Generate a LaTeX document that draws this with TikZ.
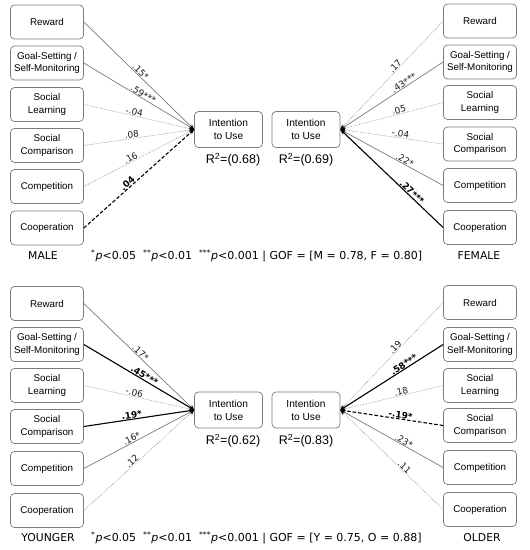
\documentclass[tikz,border=0pt]{standalone}
\usepackage{fontspec}
\setmainfont{Liberation Sans}
\newfontfamily\verdanaish{DejaVu Sans}
\usetikzlibrary{arrows.meta}

\definecolor{boxgray}{HTML}{7A7A7A}
\definecolor{linegray}{HTML}{7A7A7A}
\definecolor{dotgray}{HTML}{8A8A8A}
\definecolor{textgray}{HTML}{1A1A1A}

\tikzset{
  factor/.style={draw=boxgray, line width=0.7pt, rounded corners=4pt, fill=white,
    minimum width=73pt, minimum height=34pt, align=center, inner sep=1pt,
    font=\fontsize{9.8}{12.5}\selectfont},
  target/.style={factor, minimum width=68pt, minimum height=36pt,
    font=\fontsize{10.2}{13}\selectfont},
  weak/.style={draw=dotgray, densely dotted, line width=0.6pt, -{Stealth[length=5pt,width=4pt,black]}},
  sig/.style={draw=linegray, line width=0.7pt, -{Stealth[length=5pt,width=4pt,black]}},
  strong/.style={draw=black, line width=1.1pt, -{Stealth[length=5pt,width=4pt,black]}},
  strongneg/.style={draw=black, dash pattern=on 3.5pt off 2pt, line width=1.1pt, -{Stealth[length=5pt,width=4pt,black]}},
  coef/.style={sloped, above, inner sep=0.3pt, text=textgray, font=\verdanaish\fontsize{8.9}{9}\selectfont},
  boldcoef/.style={coef, text=black, font=\verdanaish\fontsize{8.9}{9}\selectfont\bfseries},
  rsq/.style={font=\fontsize{12.5}{14}\selectfont},
  group/.style={font=\verdanaish\fontsize{10.8}{13}\selectfont},
  note/.style={anchor=west, inner sep=0pt, font=\verdanaish\fontsize{11}{13}\selectfont}
}

\newcommand{\pval}[2]{\textsuperscript{#1}\textit{p}<#2}

\begin{document}
\begin{tikzpicture}[x=1pt,y=-1pt]
  \useasboundingbox (0,0) rectangle (530,550);

  % ---------------- Male (top left) ----------------
  \node[factor] (mRew)  at (47,22)    {Reward};
  \node[factor] (mGoal) at (47,63)    {Goal-Setting /\\Self-Monitoring};
  \node[factor] (mSL)   at (47,104.5) {Social\\Learning};
  \node[factor] (mSC)   at (47,145.5) {Social\\Comparison};
  \node[factor] (mComp) at (47,186.5) {Competition};
  \node[factor] (mCoop) at (47,228)   {Cooperation};

  \node[target] (mInt) at (228.5,129.5) {Intention\\to Use};
  \node[rsq] (mR2) at (233,160) {R\textsuperscript{2}=(0.68)};

  \draw[sig]       (mRew.east)  -- node[coef, pos=0.49] {.15*}   (mInt.west);
  \draw[sig]       (mGoal.east) -- node[coef, pos=0.52] {.59***} (mInt.west);
  \draw[weak]      (mSL.east)   -- node[coef, pos=0.45] {-.04}   (mInt.west);
  \draw[weak]      (mSC.east)   -- node[coef, pos=0.44] {.08}    (mInt.west);
  \draw[weak]      (mComp.east) -- node[coef, pos=0.44] {.16}    (mInt.west);
  \draw[strongneg] (mCoop.east) -- node[boldcoef, pos=0.42] {.04} (mInt.west);

  % ---------------- Female (top right) ----------------
  \node[factor] (fRew)  at (480,21)    {Reward};
  \node[factor] (fGoal) at (480,62)    {Goal-Setting /\\Self-Monitoring};
  \node[factor] (fSL)   at (480,102.5) {Social\\Learning};
  \node[factor] (fSC)   at (480,144)   {Social\\Comparison};
  \node[factor] (fComp) at (480,185.5) {Competition};
  \node[factor] (fCoop) at (480,227.5) {Cooperation};

  \node[target] (fInt) at (306,129.5) {Intention\\to Use};
  \node[rsq] (fR2) at (306,160) {R\textsuperscript{2}=(0.69)};

  \draw[weak]   (fRew.west)  -- node[coef, pos=0.44] {.17}    (fInt.east);
  \draw[sig]    (fGoal.west) -- node[coef, pos=0.36] {.43***} (fInt.east);
  \draw[weak]   (fSL.west)   -- node[coef, pos=0.42] {.05}    (fInt.east);
  \draw[weak]   (fSC.west)   -- node[coef, pos=0.42] {-.04}   (fInt.east);
  \draw[sig]    (fComp.west) -- node[coef, pos=0.39] {.22*}   (fInt.east);
  \draw[strong] (fCoop.west) -- node[boldcoef, pos=0.33] {.27***} (fInt.east);

  % Labels - top
  \node[group] (male)   at (43,256)  {MALE};
  \node[group] (female) at (479,256) {FEMALE};
  \node[note] (noteMF) at (91,256)
    {\pval{*}{0.05}\ \ \pval{**}{0.01}\ \ \pval{***}{0.001} | GOF = [M = 0.78, F = 0.80]};

  % ---------------- Younger (bottom left) ----------------
  \node[factor] (yRew)  at (47,303.5) {Reward};
  \node[factor] (yGoal) at (47,344.5) {Goal-Setting /\\Self-Monitoring};
  \node[factor] (ySL)   at (47,385.5) {Social\\Learning};
  \node[factor] (ySC)   at (47,426.5) {Social\\Comparison};
  \node[factor] (yComp) at (47,468.5) {Competition};
  \node[factor] (yCoop) at (47,510.5) {Cooperation};

  \node[target] (yInt) at (228.5,410) {Intention\\to Use};
  \node[rsq] (yR2) at (233,441) {R\textsuperscript{2}=(0.62)};

  \draw[sig]    (yRew.east)  -- node[coef, pos=0.49] {.17*}      (yInt.west);
  \draw[strong] (yGoal.east) -- node[boldcoef, pos=0.53] {.45***} (yInt.west);
  \draw[weak]   (ySL.east)   -- node[coef, pos=0.45] {-.06}      (yInt.west);
  \draw[strong] (ySC.east)   -- node[boldcoef, pos=0.44] {.19*}  (yInt.west);
  \draw[sig]    (yComp.east) -- node[coef, pos=0.45] {.16*}      (yInt.west);
  \draw[weak]   (yCoop.east) -- node[coef, pos=0.46] {.12}       (yInt.west);

  % ---------------- Older (bottom right) ----------------
  \node[factor] (oRew)  at (480,302.5) {Reward};
  \node[factor] (oGoal) at (480,344.5) {Goal-Setting /\\Self-Monitoring};
  \node[factor] (oSL)   at (480,385.5) {Social\\Learning};
  \node[factor] (oSC)   at (480,425.5) {Social\\Comparison};
  \node[factor] (oComp) at (480,467.5) {Competition};
  \node[factor] (oCoop) at (480,509.5) {Cooperation};

  \node[target] (oInt) at (306,410) {Intention\\to Use};
  \node[rsq] (oR2) at (306,441) {R\textsuperscript{2}=(0.83)};

  \draw[weak]      (oRew.west)  -- node[coef, pos=0.44] {.19}       (oInt.east);
  \draw[strong]    (oGoal.west) -- node[boldcoef, pos=0.36] {.58***} (oInt.east);
  \draw[weak]      (oSL.west)   -- node[coef, pos=0.40] {.18}       (oInt.east);
  \draw[strongneg] (oSC.west)   -- node[boldcoef, pos=0.42] {-.19*} (oInt.east);
  \draw[sig]       (oComp.west) -- node[coef, pos=0.40] {.23*}      (oInt.east);
  \draw[weak]      (oCoop.west) -- node[coef, pos=0.40] {.11}       (oInt.east);

  % Labels - bottom
  \node[group] (younger) at (48,538)  {YOUNGER};
  \node[group] (older)   at (482,538) {OLDER};
  \node[note] (noteYO) at (91,538)
    {\pval{*}{0.05}\ \ \pval{**}{0.01}\ \ \pval{***}{0.001} | GOF = [Y = 0.75, O = 0.88]};
\end{tikzpicture}
\end{document}
